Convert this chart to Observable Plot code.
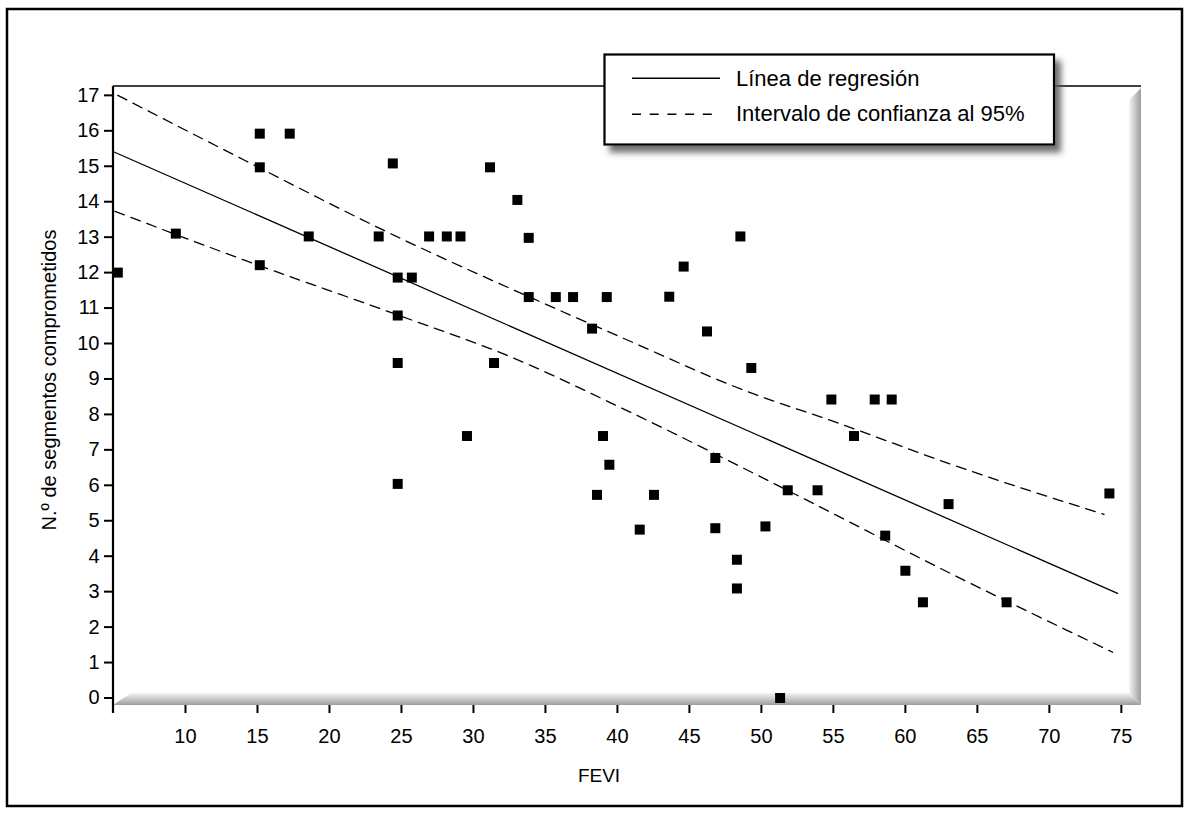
<!DOCTYPE html>
<html>
<head>
<meta charset="utf-8">
<script src="https://cdn.jsdelivr.net/npm/d3@7"></script>
<script src="https://cdn.jsdelivr.net/npm/@observablehq/plot@0.6"></script>
<style>
  html, body { margin: 0; padding: 0; background: white; }
  #chart { width: 1192px; height: 813px; }
</style>
</head>
<body>
<div id="chart"></div>
<script>
// ---- data ----
const fevi = [5.3, 9.33, 15.16, 17.24, 15.16, 15.16, 18.56, 23.42, 24.4, 24.74, 25.72, 24.74, 24.74, 24.74, 26.92, 28.15, 29.1, 29.55, 31.15, 31.43, 33.05, 33.84, 33.84, 35.72, 36.92, 38.24, 38.58, 39.0, 39.26, 39.44, 41.55, 42.54, 43.6, 44.6, 46.22, 46.8, 46.8, 48.3, 48.3, 48.54, 49.3, 50.28, 51.3, 51.83, 53.9, 54.86, 56.43, 57.87, 59.05, 58.6, 60.0, 61.22, 63.0, 67.03, 74.17];
const segmentos = [12.0, 13.1, 15.92, 15.92, 14.97, 12.21, 13.02, 13.02, 15.08, 11.86, 11.86, 10.79, 9.45, 6.04, 13.02, 13.02, 13.02, 7.39, 14.97, 9.45, 14.05, 12.98, 11.31, 11.31, 11.31, 10.42, 5.73, 7.39, 11.31, 6.58, 4.75, 5.73, 11.32, 12.17, 10.34, 6.77, 4.79, 3.9, 3.09, 13.02, 9.31, 4.84, 0.0, 5.86, 5.86, 8.42, 7.39, 8.42, 8.42, 4.58, 3.59, 2.7, 5.47, 2.7, 5.77];

const regX = [5.0, 74.74];
const regY = [15.41, 2.95];

const upperX = [5.3, 14.1, 24.5, 34.9, 40.4, 48.8, 55.3, 63.4, 73.8];
const upperY = [17.0, 15.17, 13.05, 11.13, 10.15, 8.68, 7.76, 6.56, 5.18];

const lowerX = [5.1, 14.1, 24.5, 32.6, 40.7, 51.8, 63.4, 74.4];
const lowerY = [13.73, 12.35, 10.84, 9.62, 8.1, 5.86, 3.46, 1.29];

const xTicks = [10, 15, 20, 25, 30, 35, 40, 45, 50, 55, 60, 65, 70, 75];
const yTicks = [0, 1, 2, 3, 4, 5, 6, 7, 8, 9, 10, 11, 12, 13, 14, 15, 16, 17];

const xLabel = "FEVI";
const yLabel = "N.º de segmentos comprometidos";
const legendLabels = ["Línea de regresión", "Intervalo de confianza al 95%"];

(function () {
  // ---- tables ----
  const points = fevi.map((x, i) => ({x, y: segmentos[i]}));
  const reg = regX.map((x, i) => ({x, y: regY[i]}));
  const upper = upperX.map((x, i) => ({x, y: upperY[i]}));
  const lower = lowerX.map((x, i) => ({x, y: lowerY[i]}));

  const FONT = "'Liberation Sans', Arial, Helvetica, sans-serif";
  const W = 1192, H = 813;
  const mL = 113, mR = 51, mT = 86, mB = 108;

  const plot = Plot.plot({
    width: W,
    height: H,
    marginLeft: mL,
    marginRight: mR,
    marginTop: mT,
    marginBottom: mB,
    style: {fontFamily: FONT, fontSize: "20px", background: "white", color: "black"},
    x: {domain: [5, 76.4]},
    y: {domain: [-0.2116, 17.25]},
    marks: [
      Plot.line(reg, {x: "x", y: "y", stroke: "black", strokeWidth: 1.3}),
      Plot.line(upper, {x: "x", y: "y", stroke: "black", strokeWidth: 1.3, strokeDasharray: "10,7", curve: "monotone-x"}),
      Plot.line(lower, {x: "x", y: "y", stroke: "black", strokeWidth: 1.3, strokeDasharray: "10,7", curve: "monotone-x"}),
      Plot.dot(points, {x: "x", y: "y", symbol: "square", r: 5.64, fill: "black", stroke: null}),
      Plot.axisX({ticks: xTicks, tickSize: 8, tickPadding: 15, strokeWidth: 2, fontSize: 20, label: null}),
      Plot.axisY({ticks: yTicks, tickSize: 9, tickPadding: 5, strokeWidth: 2, fontSize: 20, label: null})
    ]
  });

  document.getElementById("chart").appendChild(plot);

  // ---- decorations (frame, shadows, labels, legend) ----
  const svg = d3.select(plot);
  const pL = mL, pT = mT, pR = W - mR, pB = H - mB; // 113, 86, 1141, 705

  const defs = svg.insert("defs", ":first-child");
  const gB = defs.append("linearGradient").attr("id", "shB").attr("x1", 0).attr("y1", 0).attr("x2", 0).attr("y2", 1);
  gB.append("stop").attr("offset", "0%").attr("stop-color", "#f4f4f4");
  gB.append("stop").attr("offset", "55%").attr("stop-color", "#c4c4c4");
  gB.append("stop").attr("offset", "100%").attr("stop-color", "#9c9c9c");
  const gR = defs.append("linearGradient").attr("id", "shR").attr("x1", 0).attr("y1", 0).attr("x2", 1).attr("y2", 0);
  gR.append("stop").attr("offset", "0%").attr("stop-color", "#f4f4f4");
  gR.append("stop").attr("offset", "55%").attr("stop-color", "#c4c4c4");
  gR.append("stop").attr("offset", "100%").attr("stop-color", "#9c9c9c");
  const f = defs.append("filter").attr("id", "legShadow").attr("x", "-10%").attr("y", "-20%").attr("width", "130%").attr("height", "160%");
  f.append("feDropShadow").attr("dx", 6).attr("dy", 7).attr("stdDeviation", 3).attr("flood-color", "#555").attr("flood-opacity", 0.85);

  // background layer right after defs (below all marks)
  const bgNode = document.createElementNS("http://www.w3.org/2000/svg", "g");
  defs.node().after(bgNode);
  const bg = d3.select(bgNode);
  const band = 12;
  bg.append("polygon")
    .attr("points", `${pL},${pB} ${pL + 18},${pB - band} ${pR - band},${pB - band} ${pR},${pB}`)
    .attr("fill", "url(#shB)");
  bg.append("polygon")
    .attr("points", `${pR - band},${pT + 14} ${pR},${pT + 2} ${pR},${pB} ${pR - band},${pB - band}`)
    .attr("fill", "url(#shR)");

  // foreground layer
  const fg = svg.append("g").attr("text-anchor", "start");
  fg.append("rect").attr("x", 7).attr("y", 9).attr("width", 1175).attr("height", 797)
    .attr("fill", "none").attr("stroke", "black").attr("stroke-width", 2.5);
  fg.append("line").attr("x1", pL).attr("x2", pR).attr("y1", pT).attr("y2", pT)
    .attr("stroke", "black").attr("stroke-width", 1.6);
  fg.append("line").attr("x1", pL).attr("x2", pL).attr("y1", pT).attr("y2", pB + 8)
    .attr("stroke", "black").attr("stroke-width", 2.2);

  fg.append("text").text(xLabel).attr("x", 599).attr("y", 782)
    .attr("text-anchor", "middle").attr("font-family", FONT).attr("font-size", 19).attr("fill", "black");
  fg.append("text").text(yLabel)
    .attr("transform", "translate(49,380) rotate(-90)")
    .attr("text-anchor", "middle").attr("dy", "0.35em").attr("font-family", FONT).attr("font-size", 20).attr("fill", "black");

  const lg = fg.append("g");
  lg.append("rect").attr("x", 604.5).attr("y", 54.5).attr("width", 449.5).attr("height", 90)
    .attr("fill", "white").attr("stroke", "black").attr("stroke-width", 2.2).attr("filter", "url(#legShadow)");
  lg.append("line").attr("x1", 632).attr("x2", 720).attr("y1", 78.3).attr("y2", 78.3)
    .attr("stroke", "black").attr("stroke-width", 1.5);
  lg.append("line").attr("x1", 632).attr("x2", 720).attr("y1", 114.3).attr("y2", 114.3)
    .attr("stroke", "black").attr("stroke-width", 1.5).attr("stroke-dasharray", "9,8.7");
  lg.append("text").text(legendLabels[0]).attr("x", 736).attr("y", 86)
    .attr("text-anchor", "start").attr("font-family", FONT).attr("font-size", 22).attr("fill", "black");
  lg.append("text").text(legendLabels[1]).attr("x", 736).attr("y", 121)
    .attr("text-anchor", "start").attr("font-family", FONT).attr("font-size", 22).attr("fill", "black");
})();
</script>
</body>
</html>
